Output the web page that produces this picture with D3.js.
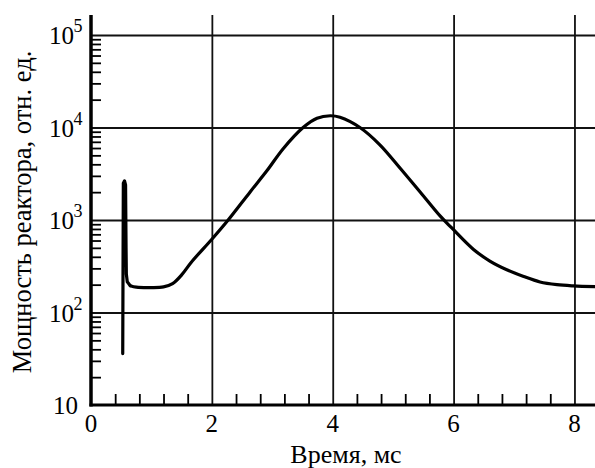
<!DOCTYPE html>
<html>
<head>
<meta charset="utf-8">
<script src="https://cdn.jsdelivr.net/npm/d3@7"></script>
<style>
  html, body { margin: 0; padding: 0; background: #fff; }
  svg { display: block; }
  svg text { font-family: "Liberation Serif", "Times New Roman", serif; }
</style>
</head>
<body>
<svg id="chart" width="595" height="468"></svg>
<script>
// ---- data ----
const timeMs = [0.525, 0.535, 0.555, 0.572, 0.58, 0.585, 0.6, 0.65, 0.75, 1.0, 1.2, 1.35, 1.5, 1.66, 2.0, 2.27, 2.63, 2.91, 3.18, 3.51, 3.74, 3.96, 4.12, 4.45, 4.78, 5.12, 5.45, 5.78, 5.97, 6.33, 6.6, 6.88, 7.16, 7.43, 7.71, 7.98, 8.34];
const power  = [36, 2500, 2650, 2400, 500, 260, 215, 195, 188, 186, 189, 205, 255, 350, 620, 1000, 2000, 3400, 5900, 10000, 12600, 13400, 12900, 10000, 6500, 3600, 2000, 1100, 820, 480, 360, 290, 245, 214, 200, 194, 190];
const spikeEnd = 7; // index where the fast spike joins the smooth curve

const xMajorTicks = [0, 2, 4, 6, 8];
const xTickLabels = ["0", "2", "4", "6", "8"];
const xMinorTicks = [0.4, 0.8, 1.2, 1.6, 2.4, 2.8, 3.2, 3.6, 4.4, 4.8, 5.2, 5.6, 6.4, 6.8, 7.2, 7.6, 8.4];
const yMajorTicks = [10, 100, 1000, 10000, 100000];
const yTickExponents = ["", "2", "3", "4", "5"];
const yTickBase = "10";
const xTitle = "Время, мс";
const yTitle = "Мощность реактора, отн. ед.";

// ---- layout ----
const FONT = "Liberation Serif";
const svg = d3.select("#chart");
const mLeft = 91, mRight = 595, mTop = 15, mBottom = 405;
const x = d3.scaleLinear().domain([0, 8.34]).range([mLeft, mRight]);
const y = d3.scaleLog().domain([10, 1e5]).range([mBottom, 35]);

const yMinor = [];
for (let d = 10; d < 1e5; d *= 10) for (let k = 2; k <= 9; k++) yMinor.push(d * k);

// horizontal grid lines
svg.append("g")
  .attr("transform", `translate(${mLeft},0)`)
  .call(d3.axisLeft(y).tickValues(yMajorTicks.slice(1)).tickSize(-(mRight - mLeft)).tickFormat(""))
  .call(g => g.select(".domain").remove())
  .call(g => g.selectAll("line").attr("stroke", "#111").attr("stroke-width", 1.8));

// vertical grid lines
svg.append("g")
  .attr("transform", `translate(0,${mBottom})`)
  .call(d3.axisBottom(x).tickValues(xMajorTicks.slice(1)).tickSize(-(mBottom - mTop)).tickFormat(""))
  .call(g => g.select(".domain").remove())
  .call(g => g.selectAll("line").attr("stroke", "#111").attr("stroke-width", 1.8));

// y minor ticks
svg.append("g")
  .attr("transform", `translate(${mLeft},0)`)
  .call(d3.axisLeft(y).tickValues(yMinor).tickSize(-10).tickFormat(""))
  .call(g => g.select(".domain").remove())
  .call(g => g.selectAll("line").attr("stroke", "#000").attr("stroke-width", 1.8));

// x minor ticks
svg.append("g")
  .attr("transform", `translate(0,${mBottom})`)
  .call(d3.axisBottom(x).tickValues(xMinorTicks.filter(v => x(v) < mRight)).tickSize(-11).tickFormat(""))
  .call(g => g.select(".domain").remove())
  .call(g => g.selectAll("line").attr("stroke", "#000").attr("stroke-width", 1.8));

// axis lines
svg.append("line").attr("x1", mLeft).attr("x2", mLeft).attr("y1", mTop).attr("y2", mBottom + 1.5)
  .attr("stroke", "#000").attr("stroke-width", 3.5);
svg.append("line").attr("x1", mLeft - 1.5).attr("x2", mRight).attr("y1", mBottom).attr("y2", mBottom)
  .attr("stroke", "#000").attr("stroke-width", 3);

// curve: fast spike drawn with straight segments, the rest smoothed
const idx = d3.range(timeMs.length);
const lineLin = d3.line().x(i => x(timeMs[i])).y(i => y(power[i])).curve(d3.curveLinear);
const lineSmooth = d3.line().x(i => x(timeMs[i])).y(i => y(power[i])).curve(d3.curveCatmullRom.alpha(0.5));
const curveStyle = p => p.attr("fill", "none").attr("stroke", "#000").attr("stroke-width", 3.2)
  .attr("stroke-linejoin", "round").attr("stroke-linecap", "round");
svg.append("path").datum(idx.slice(0, spikeEnd + 1)).attr("d", lineLin).call(curveStyle);
svg.append("path").datum(idx.slice(spikeEnd)).attr("d", lineSmooth).call(curveStyle);

// y tick labels: "10" base plus superscript exponent
const yl = svg.append("g");
yl.selectAll("text.base").data(yMajorTicks).join("text").attr("class", "base")
  .attr("x", (d, i) => yTickExponents[i] ? 74 : 78).attr("y", d => y(d) + 9)
  .attr("text-anchor", "end").attr("font-size", 25).style("font-family", FONT)
  .text(yTickBase);
yl.selectAll("text.exp").data(yMajorTicks).join("text").attr("class", "exp")
  .attr("x", 73.5).attr("y", d => y(d) - 3)
  .attr("text-anchor", "start").attr("font-size", 18).style("font-family", FONT)
  .text((d, i) => yTickExponents[i]);

// x tick labels
svg.append("g").selectAll("text").data(xMajorTicks).join("text")
  .attr("x", d => x(d)).attr("y", 432).attr("text-anchor", "middle").attr("font-size", 25)
  .style("font-family", FONT)
  .text((d, i) => xTickLabels[i]);

// titles
svg.append("text").attr("x", 346).attr("y", 463).attr("text-anchor", "middle")
  .attr("font-size", 26).style("font-family", FONT).text(xTitle);
svg.append("text").attr("transform", "translate(31,212) rotate(-90)").attr("text-anchor", "middle")
  .attr("font-size", 26.5).style("font-family", FONT).text(yTitle);
</script>
</body>
</html>
